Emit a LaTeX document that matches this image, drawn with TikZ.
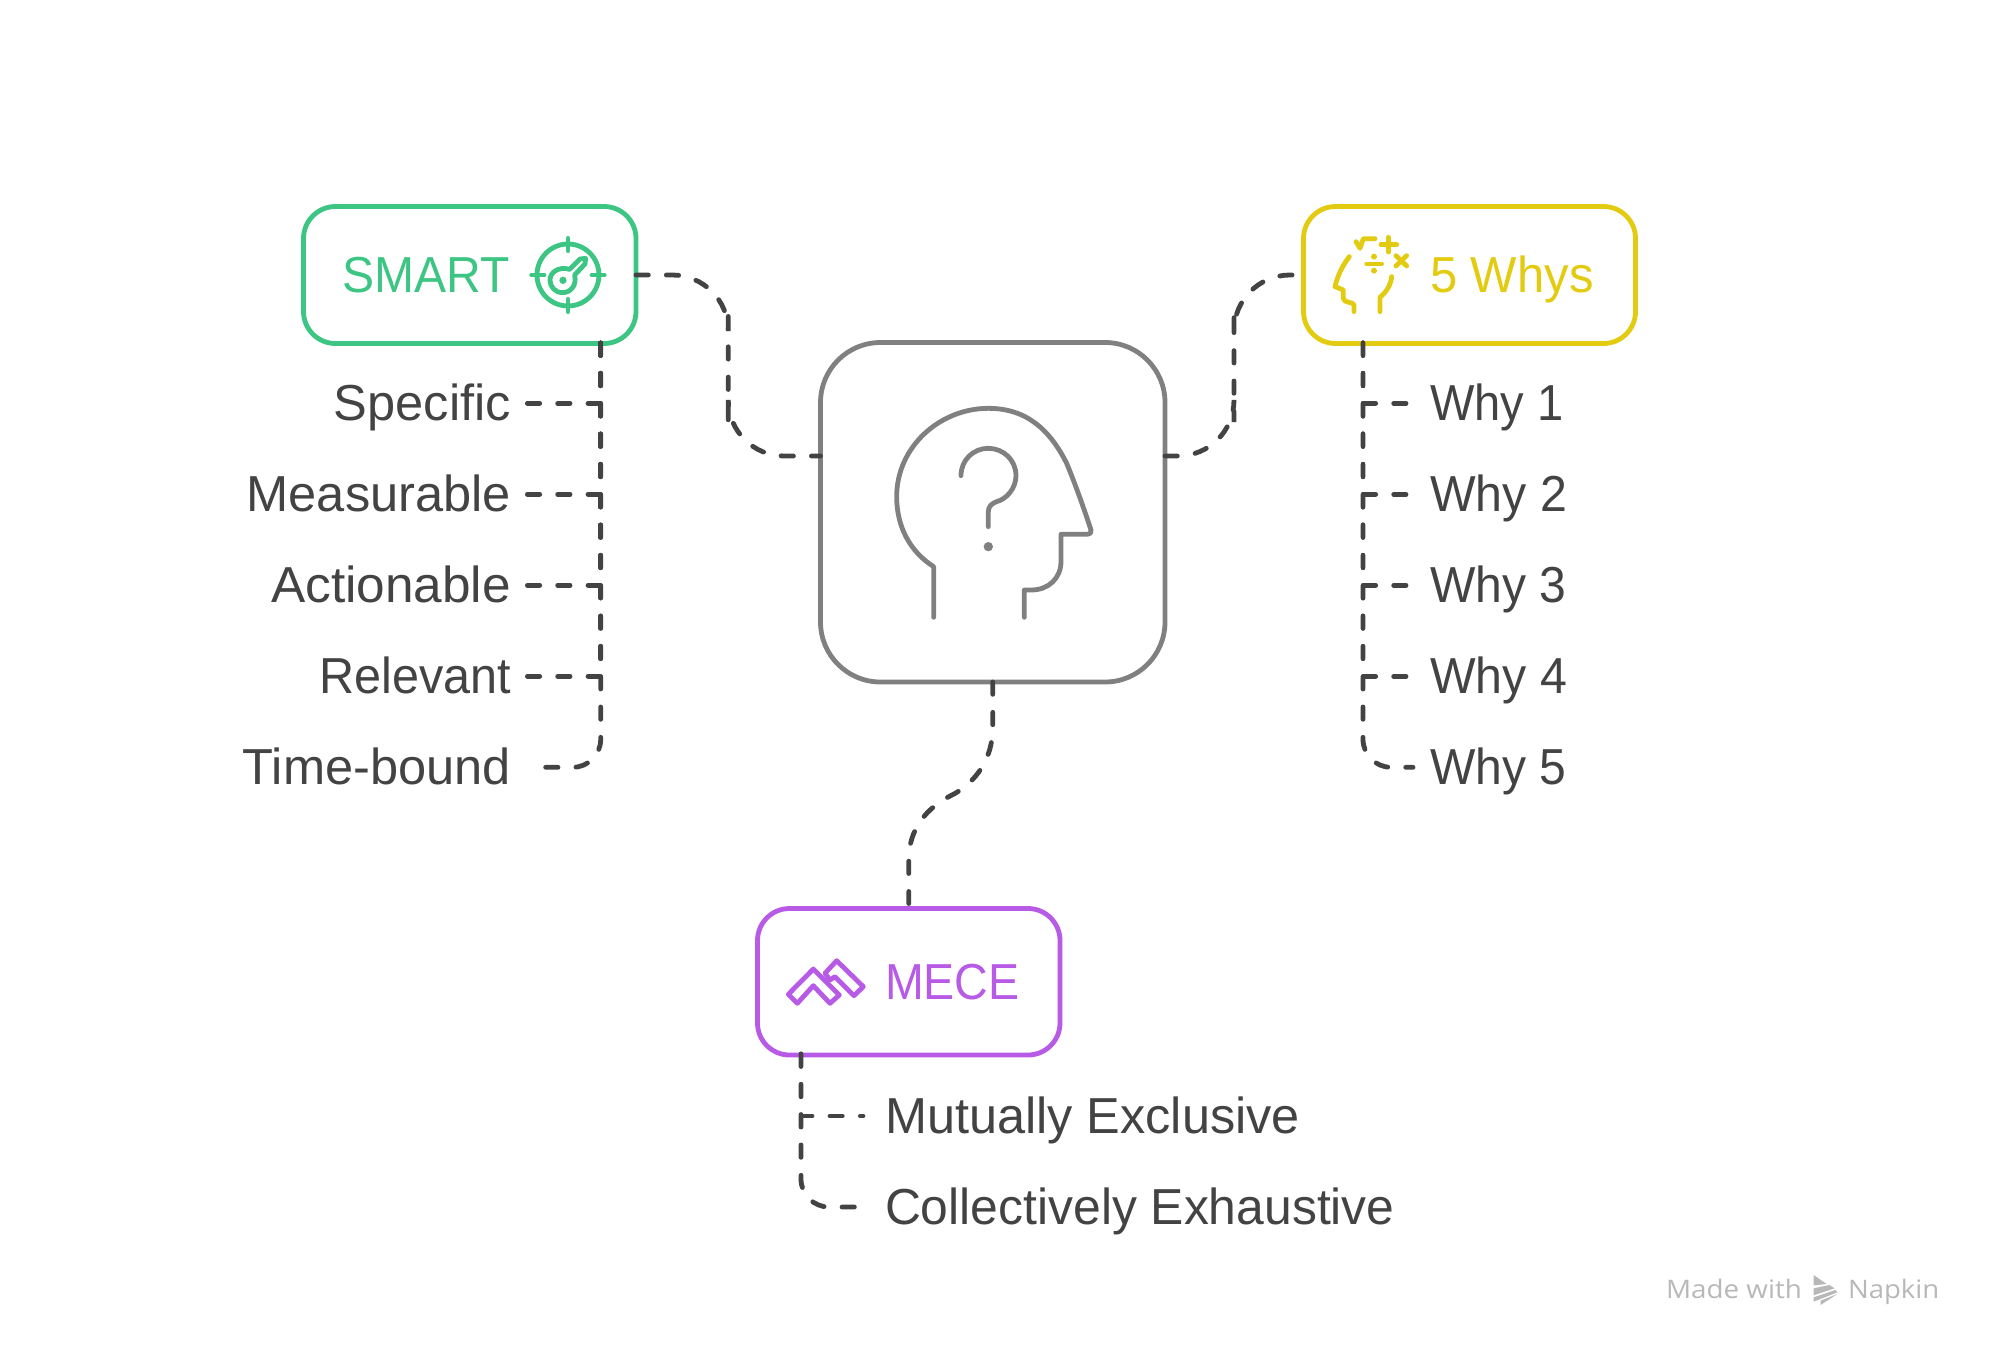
\documentclass[tikz,border=0pt]{standalone}
\usepackage{graphicx}
\usepackage{fontspec}
\setmainfont{Liberation Sans}
\newfontfamily\wmfont{Open Sans}
\newcommand{\sqz}[2]{\scalebox{#1}[1]{#2}}
\definecolor{cgreen}{HTML}{3CC583}
\definecolor{cyellow}{HTML}{E3CB11}
\definecolor{cpurple}{HTML}{B75AE6}
\definecolor{cgray}{HTML}{808080}
\definecolor{ctext}{HTML}{434343}
\definecolor{cmark}{HTML}{B8B8B8}
\tikzset{
  boxnode/.style={draw=#1,line width=4.8pt,rounded corners=32pt,inner sep=0pt,outer sep=0pt},
  lbl/.style={font=\fontsize{50.6}{60}\selectfont,text=ctext,inner sep=0pt,outer sep=0pt,text height=46pt,text depth=12pt},
  conn/.style={draw=ctext,line width=4.8pt,line cap=round,dash pattern=on 12.33pt off 18pt},
  icon/.style={line width=#1,line cap=round,line join=round},
  wmark/.style={font=\wmfont\fontsize{25.5}{30}\selectfont,text=cmark,inner sep=0pt,outer sep=0pt,text height=22pt,text depth=6pt}
}
\begin{document}
\begin{tikzpicture}[x=1pt,y=-1pt]
\useasboundingbox (0,0) rectangle (2000,1358);
% boxes
\node[boxnode=cgreen,minimum width=332.5pt,minimum height=137pt] (smart) at (469.75,275) {};
\node[boxnode=cyellow,minimum width=332pt,minimum height=137pt] (whys) at (1469.5,275) {};
\node[boxnode=cgray,rounded corners=60pt,minimum width=344.5pt,minimum height=339.5pt] (center) at (992.75,512.25) {};
\node[boxnode=cpurple,minimum width=302.5pt,minimum height=146.5pt] (mece) at (908.75,981.75) {};
% box titles
\node[lbl,text=cgreen,anchor=east] (smarttitle) at (510,275) {\sqz{0.95}{SMART}};
\node[lbl,text=cyellow,anchor=west] (whystitle) at (1430,275) {\sqz{0.97}{5 Whys}};
\node[lbl,text=cpurple,anchor=west] (mecetitle) at (885,982) {\sqz{0.92}{MECE}};
% items
\node[lbl,anchor=east] (i1) at (511,403.3) {Specific};
\node[lbl,anchor=east] (i2) at (511,494.3) {Measurable};
\node[lbl,anchor=east] (i3) at (511,585.3) {\sqz{1.015}{Actionable}};
\node[lbl,anchor=east] (i4) at (511,676.3) {\sqz{0.96}{Relevant}};
\node[lbl,anchor=east] (i5) at (511,767.3) {Time-bound};
\node[lbl,anchor=west] (w1) at (1430,403.3) {\sqz{0.93}{Why 1}};
\node[lbl,anchor=west] (w2) at (1430,494.3) {\sqz{0.955}{Why 2}};
\node[lbl,anchor=west] (w3) at (1430,585.3) {\sqz{0.95}{Why 3}};
\node[lbl,anchor=west] (w4) at (1430,676.3) {\sqz{0.955}{Why 4}};
\node[lbl,anchor=west] (w5) at (1430,767.3) {\sqz{0.95}{Why 5}};
\node[lbl,anchor=west] (m1) at (885,1116) {\sqz{0.997}{Mutually Exclusive}};
\node[lbl,anchor=west] (m2) at (885,1207) {\sqz{0.985}{Collectively Exhaustive}};
% junction coordinates
\coordinate (st) at (600.7,343);
\coordinate (wt) at (1363,343);
\coordinate (mt) at (801,1054);
\coordinate (ml) at (728.25,366);
\coordinate (mr) at (1234,366);
\coordinate (cs1) at (992.75,727);
\coordinate (mb) at (954,794);
\coordinate (ms2) at (908.75,860);
% main connectors
\draw[conn,rounded corners=56pt] (smart.east) -| (ml) |- ([yshift=56.25pt]center.west);
\draw[conn,rounded corners=56pt] ([yshift=56.25pt]center.east) -| (mr) |- ([xshift=-6pt]whys.west);
\draw[conn] (center.south) -- (cs1) .. controls (992.75,760) and (975,782) .. (mb)
   .. controls (925,808) and (908.75,830) .. (ms2) -- ([yshift=5pt]mece.north);
% SMART branches
\draw[conn] (st) |- ([xshift=16pt]i1.east);
\draw[conn] (st) |- ([xshift=16pt]i2.east);
\draw[conn] (st) |- ([xshift=16pt]i3.east);
\draw[conn] (st) |- ([xshift=16pt]i4.east);
\draw[conn,rounded corners=28pt] (st) |- ([xshift=33pt]i5.east);
% Why branches
\draw[conn] (wt) |- ([xshift=-24pt]w1.west);
\draw[conn] (wt) |- ([xshift=-24pt]w2.west);
\draw[conn] (wt) |- ([xshift=-24pt]w3.west);
\draw[conn] (wt) |- ([xshift=-24pt]w4.west);
\draw[conn,rounded corners=28pt] (wt) |- ([xshift=-17pt]w5.west);
% MECE branches
\draw[conn] (mt) |- ([xshift=-22pt]m1.west);
\draw[conn,rounded corners=28pt] (mt) |- ([xshift=-29pt]m2.west);
% SMART icon
\begin{scope}[shift={(280,190)},x=0.3333pt,y=-0.3333pt,draw=cgreen,icon=4.8pt]
  \draw (864,255) circle (93);
  \draw (864,145) -- (864,182);
  \draw (864,328) -- (864,365);
  \draw (755,255) -- (792,255);
  \draw (936,255) -- (973,255);
  \draw (869,238) -- (900,207) -- (917,205) -- (915,222) -- (884,255)
    .. controls (892,290) and (868,308) .. (848,308)
    .. controls (825,308) and (810,290) .. (810,270)
    .. controls (810,248) and (835,228) .. (869,238);
  \fill[cgreen] (849,271) circle (11);
\end{scope}
% 5 Whys icon
\begin{scope}[shift={(1280,190)},x=0.3333pt,y=-0.3333pt,draw=cyellow,icon=4.8pt]
  \draw (208,200) .. controls (185,230) and (172,260) .. (165,290) -- (190,300) -- (190,325)
    .. controls (190,340) and (222,335) .. (222,345) -- (222,365);
  \draw (335,260) .. controls (332,285) and (320,305) .. (300,322) -- (300,365);
  \draw (285,146) -- (250,146) -- (240,175) -- (228,155);
  \draw (325,142) -- (325,186);
  \draw (303,164) -- (350,164);
  \draw (348,197) -- (380,228);
  \draw (380,197) -- (348,228);
  \draw (260,222) -- (305,222);
  \fill[cyellow] (282,200) circle (9);
  \fill[cyellow] (282,242) circle (9);
\end{scope}
% Center icon
\begin{scope}[shift={(800,330)},x=0.3333pt,y=-0.3333pt,draw=cgray,icon=4.8pt]
  \draw (401,862) -- (401,710) .. controls (330,665) and (290,590) .. (290,500)
    .. controls (290,350) and (420,235) .. (565,235)
    .. controls (680,235) and (750,300) .. (800,400)
    .. controls (825,460) and (850,530) .. (873,600)
    .. controls (876,608) and (870,613) .. (862,613)
    -- (783,613) -- (783,695)
    .. controls (783,745) and (745,780) .. (695,780) -- (673,780) -- (673,862);
  \draw (483,437) .. controls (483,390) and (520,355) .. (565,355)
    .. controls (610,355) and (648,390) .. (648,437)
    .. controls (648,475) and (620,507) .. (590,515)
    .. controls (575,520) and (565,530) .. (565,545) -- (565,590);
  \fill[cgray] (565,650) circle (14);
\end{scope}
% MECE icon
\begin{scope}[shift={(740,890)},x=0.3333pt,y=-0.3333pt,draw=cpurple,icon=4.8pt]
  \draw (145,313) -- (220,237) -- (298,315) -- (270,340) -- (220,287) -- (172,340) -- cycle;
  \draw (255,250) -- (290,212) -- (370,290) -- (342,317) -- (285,260) -- (270,270) -- cycle;
\end{scope}
% watermark
\node[wmark,anchor=west] (made) at (1666,1290) {\sqz{1.09}{Made with}};
\node[wmark,anchor=west] (napkin) at (1848,1290) {\sqz{1.08}{Napkin}};
\begin{scope}[shift={(1650,1260)},x=0.3333pt,y=-0.3333pt]
  \fill[cmark] (491,45) -- (530,72) -- (491,76) -- cycle;
  \fill[cmark] (491,85) -- (538,75) -- (554,85) -- (491,106) -- cycle;
  \fill[cmark] (491,112) -- (556,90) -- (562,97) -- (491,125) -- cycle;
  \fill[cmark] (512,135) -- (562,102) -- (512,122) -- cycle;
\end{scope}
\end{tikzpicture}
\end{document}
